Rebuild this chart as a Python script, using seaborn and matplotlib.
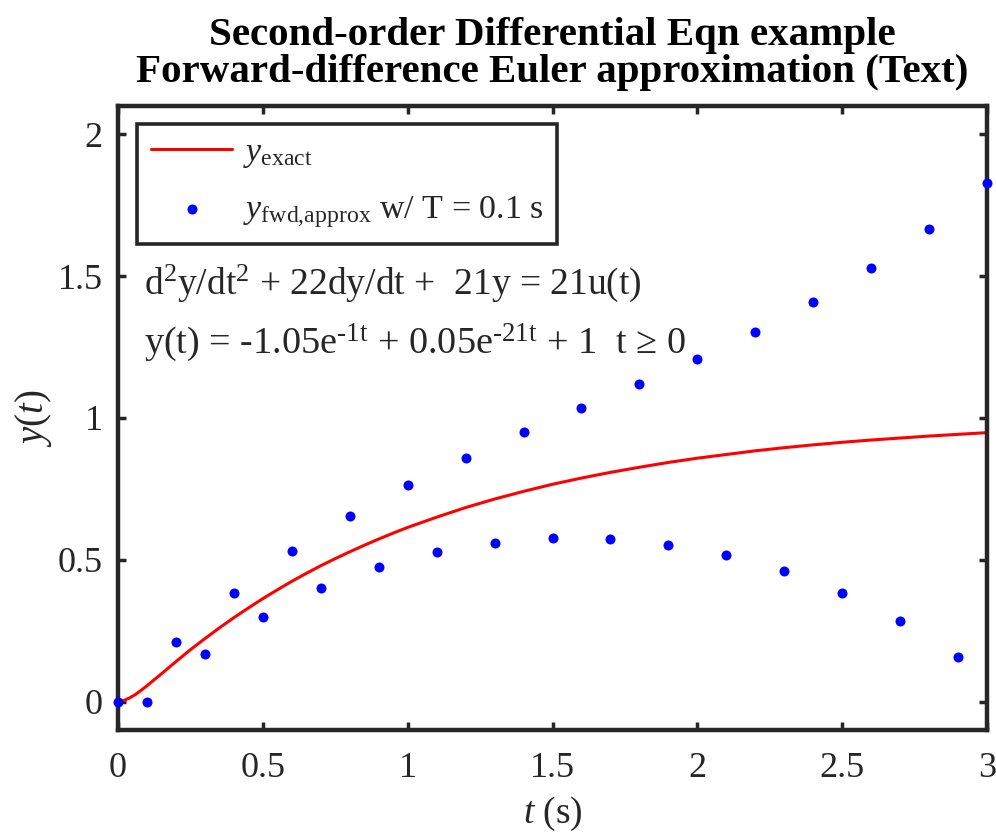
import numpy as np
import pandas as pd
import matplotlib
matplotlib.use("Agg")
import matplotlib.pyplot as plt
import seaborn as sns

# ----------------------------
# DATA
# ----------------------------

t_exact = [0.0, 0.02, 0.04, 0.06, 0.08, 0.1, 0.12, 0.15, 0.2, 0.25, 0.3, 0.35,
           0.4, 0.45, 0.5, 0.55, 0.6, 0.65, 0.7, 0.75, 0.8, 0.85, 0.9, 0.95,
           1.0, 1.1, 1.2, 1.3, 1.4, 1.5, 1.6, 1.7, 1.8, 1.9, 2.0, 2.1, 2.2,
           2.3, 2.4, 2.5, 2.6, 2.7, 2.8, 2.9, 3.0]
y_exact = [0.0, 0.004, 0.013, 0.025, 0.040, 0.056, 0.073, 0.098, 0.141, 0.183,
           0.222, 0.260, 0.296, 0.330, 0.363, 0.394, 0.424, 0.452, 0.479,
           0.504, 0.528, 0.551, 0.573, 0.594, 0.614, 0.650, 0.684, 0.714,
           0.741, 0.766, 0.788, 0.808, 0.826, 0.843, 0.858, 0.871, 0.884,
           0.895, 0.905, 0.914, 0.922, 0.929, 0.936, 0.942, 0.948]

t_fwd = [0.0, 0.1, 0.2, 0.3, 0.4, 0.5, 0.6, 0.7, 0.8, 0.9, 1.0, 1.1, 1.2, 1.3,
         1.4, 1.5, 1.6, 1.7, 1.8, 1.9, 2.0, 2.1, 2.2, 2.3, 2.4, 2.5, 2.6, 2.7,
         2.8, 2.9, 3.0]
y_fwd = [0.0, 0.0, 0.210, 0.168, 0.384, 0.299, 0.531, 0.400, 0.655, 0.475,
         0.764, 0.528, 0.860, 0.560, 0.950, 0.575, 1.035, 0.572, 1.120, 0.552,
         1.209, 0.515, 1.304, 0.459, 1.409, 0.383, 1.528, 0.283, 1.666, 0.157,
         1.828]

x_ticks = [0, 0.5, 1, 1.5, 2, 2.5, 3]
x_tick_labels = ["0", "0.5", "1", "1.5", "2", "2.5", "3"]
y_ticks = [0, 0.5, 1, 1.5, 2]
y_tick_labels = ["0", "0.5", "1", "1.5", "2"]

df_exact = pd.DataFrame({"t": t_exact, "y": y_exact})
df_fwd = pd.DataFrame({"t": t_fwd, "y": y_fwd})

# ----------------------------
# STYLE
# ----------------------------

sns.set_theme(style="white")
dark = "#262626"
plt.rcParams["font.family"] = ["Liberation Serif", "DejaVu Serif"]
plt.rcParams["mathtext.fontset"] = "custom"
plt.rcParams["mathtext.rm"] = "Liberation Serif"
plt.rcParams["mathtext.it"] = "Liberation Serif:italic"
plt.rcParams["mathtext.bf"] = "Liberation Serif:bold"

fig = plt.figure(figsize=(9.96, 8.4), dpi=100)
ax = fig.add_axes([0.1185, 0.131, 0.8725, 0.743])

# ----------------------------
# PLOT
# ----------------------------

sns.lineplot(data=df_exact, x="t", y="y", ax=ax, color="red", linewidth=2.2,
             label=r"$y_{\rm exact}$")
sns.scatterplot(data=df_fwd, x="t", y="y", ax=ax, color="blue", s=52,
                linewidth=0, label=r"$y_{\rm fwd{,}approx}$ w/ T = 0.1 s",
                zorder=3, clip_on=False)

ax.set_xlim(0, 3)
ax.set_ylim(-0.1, 2.1)
ax.set_xticks(x_ticks)
ax.set_xticklabels(x_tick_labels)
ax.set_yticks(y_ticks)
ax.set_yticklabels(y_tick_labels)

for sp in ax.spines.values():
    sp.set_color(dark)
    sp.set_linewidth(3.2)
ax.tick_params(axis="both", which="both", direction="in", length=6, width=2.5,
               color=dark, labelcolor=dark, labelsize=26,
               top=True, right=True, bottom=True, left=True)
ax.tick_params(axis="x", pad=16)
ax.tick_params(axis="y", pad=11)

ax.set_xlabel(r"$t$ (s)", fontsize=27, color=dark, labelpad=7)
ax.set_ylabel(r"$y(t)$", fontsize=28, color=dark, labelpad=3)

ax.set_title("Second-order Differential Eqn example\n"
             "Forward-difference Euler approximation (Text)",
             fontsize=29.5, fontweight="bold", color="black", pad=17,
             linespacing=1.02)

ax.text(0.09, 1.437, r"d$^2$y/dt$^2$ + 22dy/dt +  21y = 21u(t)",
        fontsize=27, color=dark, va="baseline", ha="left")
ax.text(0.09, 1.229,
        r"y(t) = -1.05e$^{\text{-1t}}$ + 0.05e$^{\text{-21t}}$ + 1  t ≥ 0",
        fontsize=27.5, color=dark, va="baseline", ha="left")

leg = ax.legend(loc="upper left", bbox_to_anchor=(0.022, 0.971),
                borderaxespad=0, fontsize=24.5, frameon=True, fancybox=False,
                framealpha=1, edgecolor=dark, handlelength=2.4,
                handletextpad=0.3, borderpad=0.4, labelspacing=0.7)
leg.get_frame().set_linewidth(2.6)

fig.savefig("out.png", dpi=100)
